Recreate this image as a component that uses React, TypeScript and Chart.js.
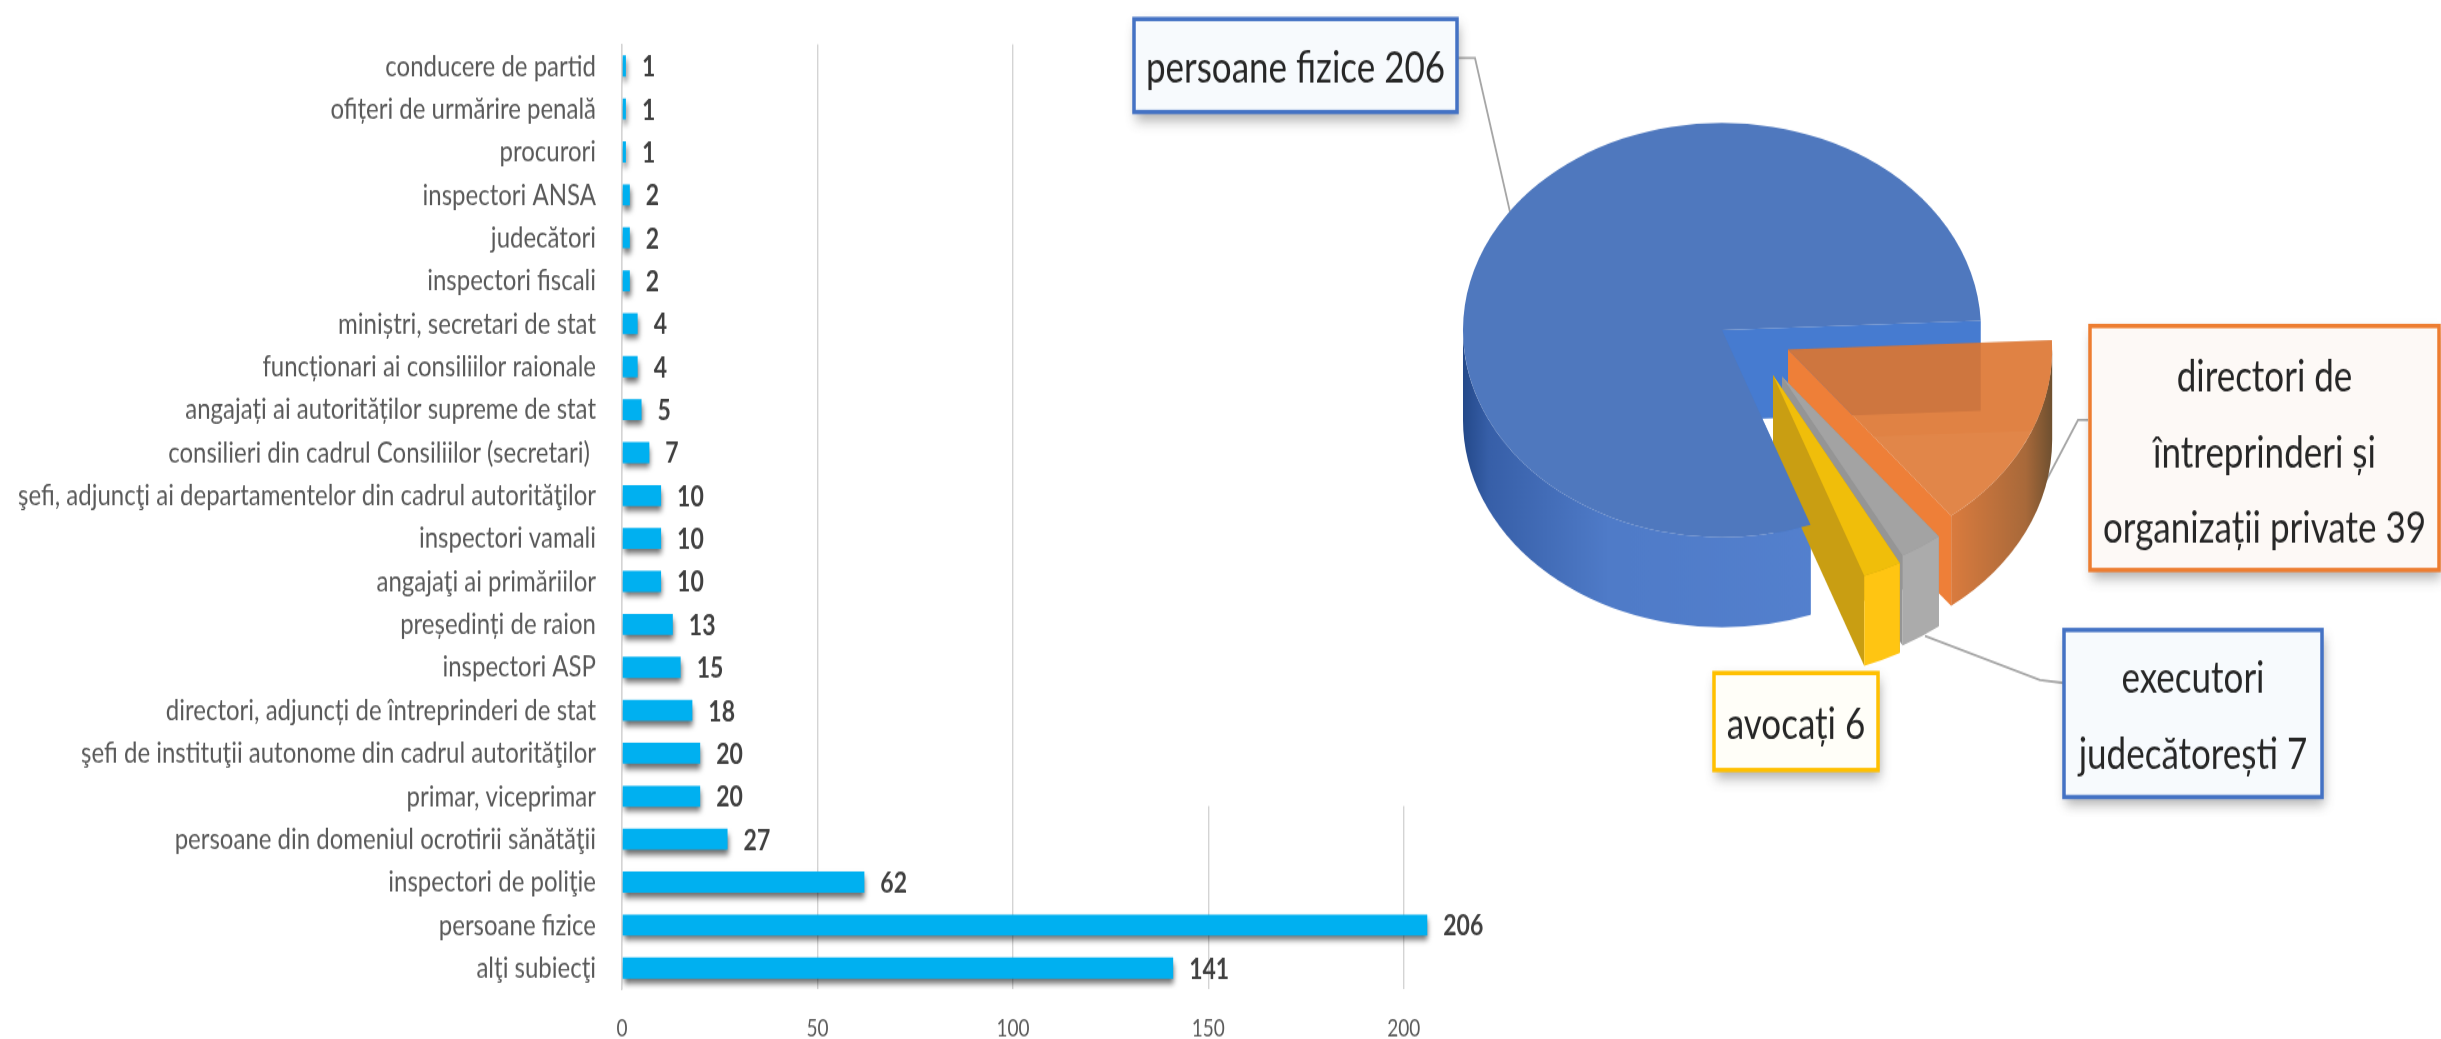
import React, { useEffect, useRef } from "react";
import { Chart, registerables } from "chart.js";

Chart.register(...registerables);

const categories = [
  "conducere de partid",
  "ofițeri de urmărire penală",
  "procurori",
  "inspectori ANSA",
  "judecători",
  "inspectori fiscali",
  "miniștri, secretari de stat",
  "funcționari ai consiliilor raionale",
  "angajați ai autorităților supreme de stat",
  "consilieri din cadrul Consiliilor (secretari) ",
  "şefi, adjuncţi ai departamentelor din cadrul autorităţilor",
  "inspectori vamali",
  "angajaţi ai primăriilor",
  "președinți de raion",
  "inspectori ASP",
  "directori, adjuncți de întreprinderi de stat",
  "şefi de instituţii autonome din cadrul autorităţilor",
  "primar, viceprimar",
  "persoane din domeniul ocrotirii sănătăţii",
  "inspectori de poliţie",
  "persoane fizice",
  "alţi subiecţi",
];
const barValues = [1, 1, 1, 2, 2, 2, 4, 4, 5, 7, 10, 10, 10, 13, 15, 18, 20, 20, 27, 62, 206, 141];

const pieLabels = ["persoane fizice", "directori de întreprinderi și organizații private", "executori judecătorești", "avocați"];
const pieValues = [206, 39, 7, 6];

const W = 2441;
const H = 1039;
const BH = 831;
const S = H / BH;
const FONT = "Lato, Carlito, 'Open Sans', sans-serif";

const callouts = [
  { box: [1134, 19, 1457, 112], border: "#4472C4", fill: "#F7FAFD", lines: ["persoane fizice 206"], ys: [69] },
  { box: [2090, 326, 2439, 570], border: "#ED7D31", fill: "#FDF9F6", lines: ["directori de", "întreprinderi și", "organizații private 39"], ys: [377, 453, 529] },
  { box: [2064, 630, 2322, 797], border: "#4472C4", fill: "#F7FAFD", lines: ["executori", "judecătorești 7"], ys: [679, 755] },
  { box: [1714, 673, 1878, 770], border: "#FFC000", fill: "#FFFEF8", lines: ["avocați 6"], ys: [725] },
];
const leaders = [
  [[1457, 58], [1475, 58], [1510, 212]],
  [[2088, 420], [2078, 420], [2045, 483], [2030, 520]],
  [[2064, 683], [2040, 680], [1925, 636]],
];

const PIE_CENTER_Y = 330;
const PIE_RADIUS = 259;
const PIE_SQUASH = 0.8 / S;
const DEPTH = 90 / 0.8;

const sliceStyle = [
  { top: "#4F78BE", radialStart: "#467BD0", radialEnd: "#467BD0", shift: [0, 0], grow: 1, wall: [[0, "#24498A"], [0.05, "#375FA8"], [0.28, "#4F7BC8"], [1, "#5784D2"]] },
  { top: "rgba(221,117,48,0.88)", radialStart: "rgba(200,110,55,0.22)", radialEnd: "#EE7F38", shift: [66, 24.5], grow: 1.02, wall: [[0, "#E47F3F"], [0.78, "#E47F3F"], [0.95, "#A8693A"], [1, "#6E5030"]] },
  { top: "#A3A3A3", radialStart: "#959595", radialEnd: "#959595", shift: [60, 58.5], grow: 0.98, wall: [[0, "#ABABAB"], [1, "#ABABAB"]] },
  { top: "#F0BE0A", radialStart: "#C99E12", radialEnd: "#C99E12", shift: [51, 56.5], grow: 1.03, wall: [[0, "#FFC512"], [1, "#FFC512"]] },
];

const barShadow = {
  id: "barShadow",
  beforeDatasetsDraw(chart: any) {
    const c = chart.ctx;
    c.save();
    c.shadowColor = "rgba(0,0,0,0.6)";
    c.shadowBlur = 5;
    c.shadowOffsetX = 1;
    c.shadowOffsetY = 4;
  },
  afterDatasetsDraw(chart: any) {
    const c = chart.ctx;
    c.restore();
    c.save();
    c.font = `bold 23px ${FONT}`;
    c.fillStyle = "#404040";
    c.textBaseline = "middle";
    c.textAlign = "left";
    chart.getDatasetMeta(0).data.forEach((bar: any, i: number) => {
      c.fillText(String(barValues[i]), bar.x + 16, bar.y + 1);
    });
    c.restore();
  },
};

function addStops(g: CanvasGradient, stops: any[]) {
  stops.forEach((s) => g.addColorStop(s[0], s[1]));
}

const pie3d = {
  id: "pie3d",
  afterDatasetsUpdate(chart: any) {
    chart.getDatasetMeta(0).data.forEach((arc: any, i: number) => {
      const st = sliceStyle[i];
      arc.x += st.shift[0];
      arc.y += st.shift[1];
      arc.outerRadius *= st.grow;
    });
  },
  beforeDraw(chart: any) {
    const c = chart.ctx;
    c.save();
    c.fillStyle = "#FFFFFF";
    c.fillRect(1090, 0, W - 1090, 806 / S);
    c.restore();
  },
  beforeDatasetsDraw(chart: any) {
    const c = chart.ctx;
    c.save();
    c.strokeStyle = "#A6A6A6";
    c.lineWidth = 1.8;
    leaders.forEach((pts) => {
      c.beginPath();
      pts.forEach((p, i) => (i ? c.lineTo(p[0], p[1] / S) : c.moveTo(p[0], p[1] / S)));
      c.stroke();
    });
    c.restore();

    const arcs = chart.getDatasetMeta(0).data;
    const cy0 = PIE_CENTER_Y / S;
    c.save();
    c.translate(0, cy0);
    c.scale(1, PIE_SQUASH);
    c.translate(0, -cy0);
    arcs.forEach((arc: any, i: number) => {
      const st = sliceStyle[i];
      const cx = arc.x;
      const cy = arc.y;
      const r = arc.outerRadius;
      const edge = (a: number, color: string) => {
        const x = cx + Math.cos(a) * r;
        const y = cy + Math.sin(a) * r;
        c.beginPath();
        c.moveTo(cx, cy);
        c.lineTo(x, y);
        c.lineTo(x, y + DEPTH);
        c.lineTo(cx, cy + DEPTH);
        c.closePath();
        c.fillStyle = color;
        c.fill();
      };
      edge(arc.startAngle, st.radialStart);
      edge(arc.endAngle, st.radialEnd);
      const TAU = Math.PI * 2;
      let lo = arc.startAngle;
      let hi = arc.endAngle;
      while (lo > Math.PI) {
        lo -= TAU;
        hi -= TAU;
      }
      lo = Math.max(lo, 0);
      hi = Math.min(hi, Math.PI);
      if (hi > lo) {
        const g = c.createLinearGradient(cx - r, 0, cx + r, 0);
        addStops(g, st.wall);
        c.beginPath();
        c.arc(cx, cy, r, lo, hi, false);
        c.arc(cx, cy + DEPTH, r, hi, lo, true);
        c.closePath();
        c.fillStyle = g;
        c.fill();
      }
    });
  },
  afterDatasetsDraw(chart: any) {
    chart.ctx.restore();
  },
  afterDraw(chart: any) {
    const c = chart.ctx;
    callouts.forEach((b) => {
      const [x0, y0, x1, y1] = b.box;
      c.save();
      c.shadowColor = "rgba(70,70,70,0.45)";
      c.shadowBlur = 10;
      c.shadowOffsetX = 2;
      c.shadowOffsetY = 6;
      c.fillStyle = b.fill;
      c.fillRect(x0, y0 / S, x1 - x0, (y1 - y0) / S);
      c.restore();
      c.save();
      c.strokeStyle = b.border;
      c.lineWidth = 3.5;
      c.strokeRect(x0, y0 / S, x1 - x0, (y1 - y0) / S);
      c.font = `35px ${FONT}`;
      c.fillStyle = "#262626";
      c.textAlign = "center";
      c.textBaseline = "middle";
      b.lines.forEach((t, i) => c.fillText(t, (x0 + x1) / 2, b.ys[i] / S));
      c.restore();
    });
  },
};

function fit(canvas: HTMLCanvasElement) {
  canvas.style.width = W + "px";
  canvas.style.height = H + "px";
  canvas.style.filter = "blur(0.7px)";
}

export default function App() {
  const barRef = useRef<HTMLCanvasElement>(null);
  const pieRef = useRef<HTMLCanvasElement>(null);

  useEffect(() => {
    document.body.style.margin = "0";
    document.body.style.background = "#FFFFFF";
    const bar = new Chart(barRef.current!, {
      type: "bar",
      data: {
        labels: categories,
        datasets: [
          {
            data: barValues,
            backgroundColor: "#00B0F0",
            categoryPercentage: 1,
            barPercentage: 0.49,
          },
        ],
      },
      options: {
        indexAxis: "y",
        animation: false,
        responsive: false,
        devicePixelRatio: 1,
        layout: { padding: { top: 44.5 / S, right: W - 1482, left: 0, bottom: 0 } },
        plugins: { legend: { display: false }, tooltip: { enabled: false } },
        scales: {
          x: {
            type: "linear",
            min: 0,
            max: 220,
            afterFit: (s: any) => {
              s.height = BH - 989.5 / S;
              s.paddingLeft = 0;
              s.paddingRight = 0;
            },
            grid: { color: "#D4D4D4", lineWidth: 1.4, drawTicks: false },
            border: { display: false },
            ticks: {
              stepSize: 50,
              includeBounds: false,
              maxRotation: 0,
              padding: 20,
              color: "#595959",
              font: { family: FONT, size: 19 },
            },
          },
          y: {
            type: "category",
            afterFit: (s: any) => {
              s.width = 622;
              s.paddingTop = 0;
              s.paddingBottom = 0;
            },
            grid: { display: false, drawTicks: false },
            border: { color: "#D4D4D4", width: 1.4 },
            ticks: {
              autoSkip: false,
              padding: 26,
              color: "#595959",
              font: { family: FONT, size: 24 },
            },
          },
        },
      } as any,
      plugins: [barShadow],
    });
    fit(barRef.current!);

    const pie = new Chart(pieRef.current!, {
      type: "pie",
      data: {
        labels: pieLabels,
        datasets: [
          {
            data: pieValues,
            backgroundColor: sliceStyle.map((s) => s.top),
            borderWidth: 0,
            clip: false,
          } as any,
        ],
      },
      options: {
        animation: false,
        responsive: false,
        devicePixelRatio: 1,
        rotation: 160,
        radius: PIE_RADIUS,
        layout: { padding: { left: 1003, bottom: BH - 2 * (PIE_CENTER_Y / S) } },
        plugins: { legend: { display: false }, tooltip: { enabled: false } },
      } as any,
      plugins: [pie3d],
    });
    fit(pieRef.current!);

    return () => {
      bar.destroy();
      pie.destroy();
    };
  }, []);

  return (
    <div style={{ position: "relative", width: W, height: H, overflow: "hidden" }}>
      <canvas ref={barRef} width={W} height={BH} style={{ position: "absolute", left: 0, top: 0 }} />
      <canvas ref={pieRef} width={W} height={BH} style={{ position: "absolute", left: 0, top: 0 }} />
    </div>
  );
}
